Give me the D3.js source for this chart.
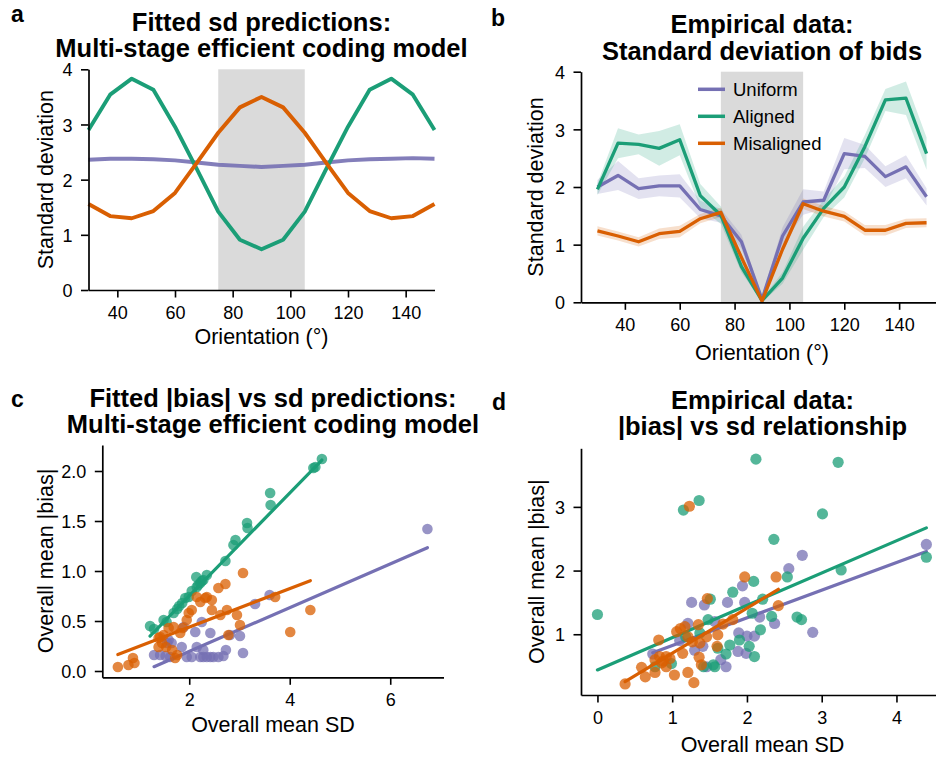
<!DOCTYPE html>
<html>
<head>
<meta charset="utf-8">
<script src="https://cdn.jsdelivr.net/npm/d3@7"></script>
<style>
  html, body { margin: 0; padding: 0; background: #fff; }
  svg { display: block; overflow: hidden; font-family: "Liberation Sans", Arial, Helvetica, sans-serif; }
</style>
</head>
<body>
<svg id="chart" width="936" height="758"></svg>
<script>
// ---------------- DATA ----------------
const orientations = [30, 37.5, 45, 52.5, 60, 67.5, 75, 82.5, 90, 97.5, 105, 112.5, 120, 127.5, 135, 142.5, 150];
const conditions = ["Uniform", "Aligned", "Misaligned"];
const shadedRegion = [75, 105];

// Panel a: fitted sd predictions
const fitSdUniform    = [2.36, 2.38, 2.38, 2.37, 2.35, 2.31, 2.27, 2.25, 2.23, 2.25, 2.27, 2.31, 2.35, 2.37, 2.38, 2.39, 2.38];
const fitSdAligned    = [2.90, 3.54, 3.83, 3.63, 2.96, 2.20, 1.42, 0.91, 0.74, 0.91, 1.42, 2.20, 2.96, 3.63, 3.83, 3.54, 2.90];
const fitSdMisaligned = [1.56, 1.34, 1.30, 1.43, 1.76, 2.30, 2.85, 3.31, 3.50, 3.31, 2.85, 2.30, 1.76, 1.43, 1.30, 1.34, 1.56];

// Panel b: empirical sd of bids (mean and CI half-width)
const empSdUniform      = [2.00, 2.20, 1.97, 2.02, 2.02, 1.61, 1.50, 1.05, 0.05, 1.15, 1.74, 1.77, 2.58, 2.53, 2.18, 2.35, 1.83];
const empSdUniformErr   = [0.12, 0.25, 0.18, 0.18, 0.20, 0.15, 0.12, 0.12, 0.05, 0.15, 0.22, 0.15, 0.27, 0.20, 0.18, 0.20, 0.15];
const empSdAligned      = [1.96, 2.76, 2.74, 2.67, 2.82, 1.85, 1.51, 0.62, 0.03, 0.42, 1.11, 1.63, 2.00, 2.70, 3.51, 3.54, 2.58];
const empSdAlignedErr   = [0.10, 0.26, 0.17, 0.30, 0.27, 0.20, 0.15, 0.10, 0.03, 0.10, 0.20, 0.15, 0.18, 0.20, 0.19, 0.29, 0.28];
const empSdMisaligned   = [1.24, 1.15, 1.05, 1.19, 1.23, 1.45, 1.56, 0.78, 0.02, 0.92, 1.71, 1.58, 1.49, 1.25, 1.25, 1.37, 1.38];
const empSdMisalignedErr= [0.08, 0.08, 0.08, 0.09, 0.10, 0.08, 0.08, 0.06, 0.02, 0.06, 0.09, 0.09, 0.09, 0.09, 0.09, 0.08, 0.08];

// Panel c: fitted |bias| vs sd (per-participant points: [sd, |bias|])
const cUniform = [[1.30,0.16],[1.42,0.16],[1.53,0.15],[1.62,0.14],[1.65,0.28],[1.59,0.31],[1.56,0.28],[1.85,0.24],[1.95,0.14],[2.05,0.14],[2.15,0.24],[2.22,0.14],[2.28,0.14],[2.28,0.21],[2.35,0.14],[2.42,0.14],[2.48,0.14],[2.58,0.14],[2.68,0.15],[2.73,0.21],[1.89,0.44],[2.12,0.39],[2.25,0.49],[2.42,0.38],[2.81,0.36],[3.01,0.35],[3.07,0.18],[3.31,0.67],[3.60,0.76],[6.74,1.42]];
const cAligned = [[1.22,0.45],[1.30,0.42],[1.49,0.51],[1.55,0.49],[1.69,0.58],[1.76,0.62],[1.80,0.65],[1.86,0.68],[1.92,0.73],[1.99,0.74],[2.05,0.80],[2.14,0.94],[2.15,0.84],[2.18,0.86],[2.22,0.88],[2.25,0.90],[2.28,0.91],[2.35,0.96],[2.72,1.10],[2.88,1.26],[2.92,1.31],[3.15,1.48],[3.16,1.43],[3.61,1.78],[3.62,1.66],[4.47,2.03],[4.51,2.04],[4.64,2.12]];
const cMisaligned = [[0.58,0.04],[0.79,0.06],[0.88,0.13],[0.91,0.08],[1.39,0.33],[1.42,0.34],[1.49,0.36],[1.46,0.28],[1.39,0.24],[1.54,0.24],[1.59,0.43],[1.69,0.44],[1.66,0.21],[1.72,0.13],[1.76,0.16],[1.82,0.38],[1.87,0.43],[1.95,0.51],[1.99,0.58],[2.05,0.61],[2.15,0.74],[2.22,0.69],[2.32,0.73],[2.35,0.74],[2.45,0.71],[2.45,0.61],[2.58,0.83],[2.72,0.87],[2.62,0.56],[2.75,0.61],[2.95,0.56],[3.01,0.46],[2.78,0.36],[3.07,0.98],[3.71,0.74],[4.01,0.39],[4.41,0.61]];
const cFitSlope     = [0.2187, 0.515, 0.193];
const cFitIntercept = [-0.241, -0.28, 0.052];

// Panel d: empirical |bias| vs sd
const dUniform = [[4.40,2.41],[2.74,2.24],[2.56,2.03],[1.94,1.76],[1.26,1.50],[1.43,1.46],[1.74,1.50],[1.97,1.50],[2.17,1.27],[2.37,1.17],[2.88,1.03],[1.89,1.02],[2.10,0.97],[2.00,0.97],[1.21,1.17],[1.57,1.20],[0.74,0.69],[1.46,0.49],[1.72,0.49],[1.88,0.73],[1.99,0.70],[1.41,0.81],[1.10,0.90],[1.30,0.75],[1.65,0.60]];
const dAligned = [[0.00,1.31],[1.15,2.95],[1.36,3.10],[2.12,3.75],[3.22,3.70],[3.01,2.89],[2.36,2.49],[3.26,2.01],[4.40,2.21],[2.54,1.90],[2.09,1.83],[1.81,1.66],[2.21,1.55],[1.51,1.55],[2.07,1.33],[2.33,1.28],[2.67,1.27],[2.73,1.23],[2.18,1.07],[1.48,1.23],[1.77,0.83],[1.90,0.91],[2.03,0.81],[2.10,0.65],[1.72,0.69],[1.61,0.78],[1.55,0.52],[1.42,0.49],[0.99,0.54],[0.77,0.49],[1.37,1.02],[1.18,0.96],[1.57,0.49]];
const dMisaligned = [[0.37,0.22],[0.64,0.33],[0.59,0.48],[0.77,0.40],[0.82,0.91],[1.03,0.36],[0.92,0.49],[0.77,0.60],[0.83,0.65],[0.92,0.65],[0.97,0.62],[1.06,1.04],[1.11,1.09],[1.17,1.12],[1.23,3.01],[1.21,0.96],[1.29,0.24],[1.21,0.40],[1.36,0.64],[1.35,1.15],[1.27,0.88],[1.37,0.86],[1.46,0.96],[1.47,1.56],[1.61,0.99],[1.60,0.81],[1.68,1.16],[1.81,1.23],[1.97,1.90],[2.39,1.90],[2.42,1.45],[1.39,0.52],[1.14,0.70],[0.86,0.55],[0.88,0.58]];
const dFitSlope     = [0.435, 0.507, 0.708];
const dFitIntercept = [0.387, 0.44, -0.007];

// Tick values
const orientTicks = [40, 60, 80, 100, 120, 140];
const sdTicks = [0, 1, 2, 3, 4];
const cXTicks = [2, 4, 6];
const cYTicks = [0.0, 0.5, 1.0, 1.5, 2.0];
const dXTicks = [0, 1, 2, 3, 4];
const dYTicks = [1, 2, 3];

// ---------------- STYLE ----------------
const colors = ["#7570b3", "#1b9e77", "#d95f02"];
const FONT = '"Liberation Sans", Arial, Helvetica, sans-serif';
const svg = d3.select("#chart");

function drawAxes(g, x, y, xTicks, yTicks, yFmt) {
  const ax = g.append("g").attr("transform", `translate(0,${y.range()[0]})`)
    .call(d3.axisBottom(x).tickValues(xTicks).tickSize(7.5).tickPadding(8.5).tickSizeOuter(0).tickFormat(d3.format("d")));
  const ay = g.append("g").attr("transform", `translate(${x.range()[0]},0)`)
    .call(d3.axisLeft(y).tickValues(yTicks).tickSize(7.5).tickPadding(8.5).tickSizeOuter(0).tickFormat(yFmt || d3.format("d")));
  [ax, ay].forEach(a => {
    a.select(".domain").attr("stroke", "#000").attr("stroke-width", 1.7);
    a.selectAll(".tick line").attr("stroke", "#000").attr("stroke-width", 1.6);
    a.selectAll(".tick text").attr("fill", "#000").style("font-size", "18px").style("font-family", FONT);
  });
  ay.selectAll(".tick text").attr("dy", "0.37em");
}
function title(lines, cx, ys) {
  lines.forEach((t, i) => svg.append("text").attr("x", cx).attr("y", ys[i]).attr("text-anchor", "middle")
    .style("font-size", "25.5px").style("font-weight", "bold").style("font-family", FONT).text(t));
}
function panelLabel(t, x, y) {
  svg.append("text").attr("x", x).attr("y", y).style("font-size", "23px").style("font-weight", "bold")
    .style("font-family", FONT).text(t);
}
function xLabel(t, cx, y) {
  svg.append("text").attr("x", cx).attr("y", y).attr("text-anchor", "middle").style("font-size", "21.5px")
    .style("font-family", FONT).text(t);
}
function yLabel(t, x, cy) {
  svg.append("text").attr("transform", `translate(${x},${cy}) rotate(-90)`).attr("text-anchor", "middle")
    .style("font-size", "21.5px").style("font-family", FONT).text(t);
}

// ---------------- PANEL A ----------------
{
  const x = d3.scaleLinear().domain([30, 150]).range([88.5, 434.5]);
  const y = d3.scaleLinear().domain([0, 4]).range([290, 69.3]);
  const g = svg.append("g");
  g.append("rect").attr("x", x(shadedRegion[0])).attr("y", y(4)).attr("width", x(shadedRegion[1]) - x(shadedRegion[0]))
    .attr("height", y(0) - y(4)).attr("fill", "#dadada");
  const series = [fitSdUniform, fitSdAligned, fitSdMisaligned];
  const line = d3.line().x((d, i) => x(orientations[i])).y(d => y(d));
  series.forEach((s, k) => g.append("path").attr("d", line(s)).attr("fill", "none").attr("stroke", colors[k])
    .attr("stroke-width", 3.9).attr("stroke-linejoin", "round").attr("opacity", k === 0 ? 0.9 : 1));
  drawAxes(g, x, y, orientTicks, sdTicks);
  title(["Fitted sd predictions:", "Multi-stage efficient coding model"], 261.5, [31, 57]);
  panelLabel("a", 11, 21.7);
  xLabel("Orientation (°)", 261.5, 344);
  yLabel("Standard deviation", 53, 179.7);
}

// ---------------- PANEL B ----------------
{
  const x = d3.scaleLinear().domain([24, 156]).range([581, 943]);
  const y = d3.scaleLinear().domain([0, 4]).range([302.3, 71.7]);
  const g = svg.append("g");
  g.append("rect").attr("x", x(shadedRegion[0])).attr("y", y(4)).attr("width", x(shadedRegion[1]) - x(shadedRegion[0]))
    .attr("height", y(0) - y(4)).attr("fill", "#dadada");
  const means = [empSdUniform, empSdAligned, empSdMisaligned];
  const errs = [empSdUniformErr, empSdAlignedErr, empSdMisalignedErr];
  const area = (m, e) => d3.area().x((d, i) => x(orientations[i])).y0((d, i) => y(m[i] - e[i])).y1((d, i) => y(m[i] + e[i]))(m);
  const line = d3.line().x((d, i) => x(orientations[i])).y(d => y(d));
  means.forEach((m, k) => {
    g.append("path").attr("d", area(m, errs[k])).attr("fill", colors[k]).attr("opacity", 0.2);
  });
  means.forEach((m, k) => {
    g.append("path").attr("d", line(m)).attr("fill", "none").attr("stroke", colors[k]).attr("stroke-width", 3.3)
      .attr("stroke-linejoin", "round");
  });
  drawAxes(g, x, y, orientTicks, sdTicks);
  // legend
  conditions.forEach((c, k) => {
    const ly = 89.3 + k * 27;
    g.append("line").attr("x1", 698).attr("x2", 725).attr("y1", ly).attr("y2", ly).attr("stroke", colors[k]).attr("stroke-width", 3.5);
    g.append("text").attr("x", 733).attr("y", ly + 6.5).style("font-size", "18.5px").style("font-family", FONT).text(c);
  });
  title(["Empirical data:", "Standard deviation of bids"], 762, [32.5, 60]);
  panelLabel("b", 491, 25.5);
  xLabel("Orientation (°)", 762, 360);
  yLabel("Standard deviation", 543, 187);
}

// ---------------- PANEL C ----------------
function scatterPanel(x, y, groups, slopes, intercepts, r) {
  const g = svg.append("g");
  groups.forEach((pts, k) => {
    g.append("g").selectAll("circle").data(pts).join("circle")
      .attr("cx", d => x(d[0])).attr("cy", d => y(d[1])).attr("r", r)
      .attr("fill", colors[k]).attr("fill-opacity", 0.75);
    const ext = d3.extent(pts, d => d[0]);
    g.append("line").attr("x1", x(ext[0])).attr("y1", y(slopes[k] * ext[0] + intercepts[k]))
      .attr("x2", x(ext[1])).attr("y2", y(slopes[k] * ext[1] + intercepts[k]))
      .attr("stroke", colors[k]).attr("stroke-width", 3.2).attr("stroke-linecap", "round");
  });
  return g;
}
{
  const x = d3.scaleLinear().domain([0.27, 7.06]).range([102.3, 443.5]);
  const y = d3.scaleLinear().domain([-0.063, 2.26]).range([677.3, 445]);
  const g = scatterPanel(x, y, [cUniform, cAligned, cMisaligned], cFitSlope, cFitIntercept, 5.3);
  drawAxes(g, x, y, cXTicks, cYTicks, d3.format(".1f"));
  title(["Fitted |bias| vs sd predictions:", "Multi-stage efficient coding model"], 273, [406.5, 433.3]);
  panelLabel("c", 11, 406.5);
  xLabel("Overall mean SD", 273, 731.7);
  yLabel("Overall mean |bias|", 53, 561);
}

// ---------------- PANEL D ----------------
{
  const x = d3.scaleLinear().domain([-0.22, 4.64]).range([581, 944.3]);
  const y = d3.scaleLinear().domain([0.046, 3.92]).range([695, 448.3]);
  const g = scatterPanel(x, y, [dUniform, dAligned, dMisaligned], dFitSlope, dFitIntercept, 5.6);
  drawAxes(g, x, y, dXTicks, dYTicks);
  title(["Empirical data:", "|bias| vs sd relationship"], 762.5, [408.5, 435]);
  panelLabel("d", 492, 410);
  xLabel("Overall mean SD", 762.5, 751.7);
  yLabel("Overall mean |bias|", 544, 571.7);
}
</script>
</body>
</html>
